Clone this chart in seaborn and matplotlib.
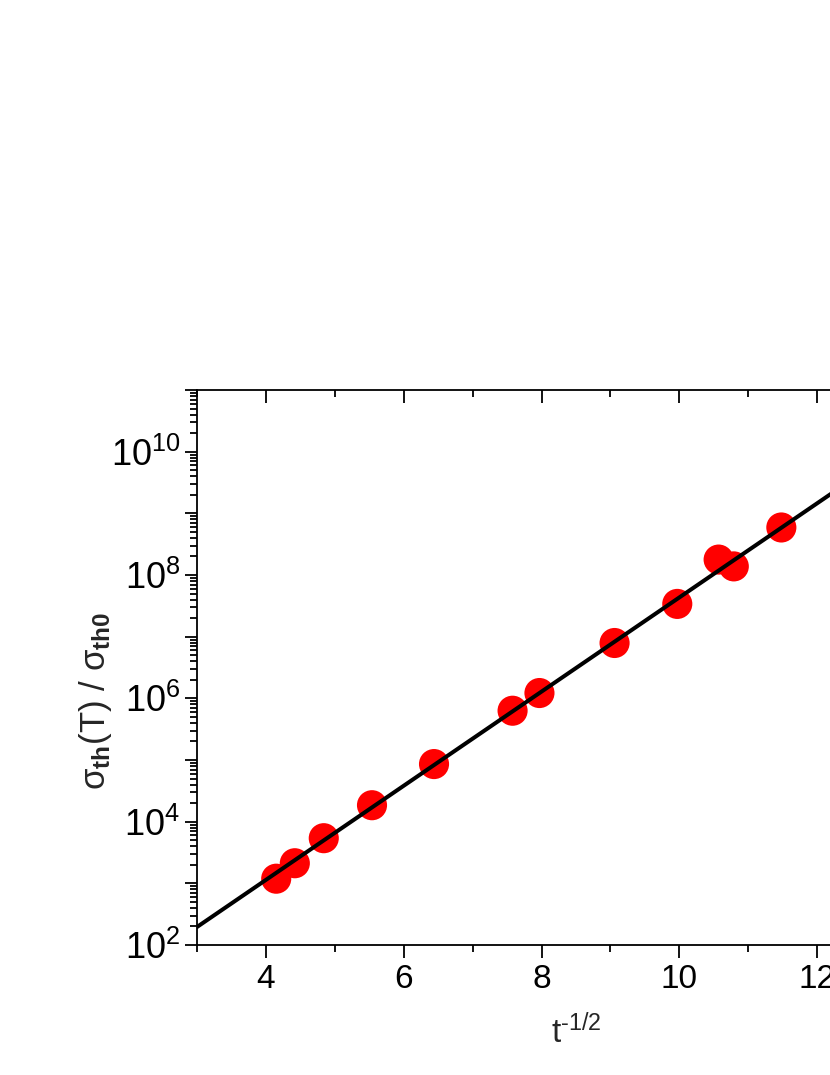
import numpy as np
import pandas as pd
import matplotlib
matplotlib.use("Agg")
import matplotlib.pyplot as plt
from matplotlib.ticker import MultipleLocator, LogLocator, NullFormatter
import seaborn as sns

# data
t_inv_sqrt = [4.15, 4.42, 4.84, 5.54, 6.44, 7.58, 7.97, 9.06, 9.97, 10.57, 10.79, 11.48]
sigma_ratio = [1.19e3, 2.12e3, 5.4e3, 1.85e4, 8.6e4, 6.3e5, 1.22e6, 7.9e6, 3.4e7, 1.78e8, 1.38e8, 5.9e8]

# fitted straight line (log scale), end points
fit_x = [3.0, 14.0]
fit_y = [1.96e2, 4.9e10]

y_decades = [1e2, 1e3, 1e4, 1e5, 1e6, 1e7, 1e8, 1e9, 1e10, 1e11]
y_ticklabels = [r'$10^{2}$', '', r'$10^{4}$', '', r'$10^{6}$', '', r'$10^{8}$', '', r'$10^{10}$', '']

pts = pd.DataFrame({'x': t_inv_sqrt, 'y': sigma_ratio})
fit = pd.DataFrame({'x': fit_x, 'y': fit_y})

sns.set_style("ticks")
plt.rcParams['font.family'] = ['Liberation Sans', 'DejaVu Sans']
plt.rcParams['mathtext.fontset'] = 'custom'
plt.rcParams['mathtext.rm'] = 'Liberation Sans'
plt.rcParams['mathtext.it'] = 'Liberation Sans:italic'
plt.rcParams['mathtext.bf'] = 'Liberation Sans:bold'

fig = plt.figure(figsize=(8.3, 10.75), dpi=100)
ax = fig.add_axes([0.2373, 0.1209, 0.9133, 0.5163])

sns.scatterplot(data=pts, x='x', y='y', ax=ax, s=470, color='#ff0000',
                edgecolor='none', linewidth=0, zorder=2)
sns.lineplot(data=fit, x='x', y='y', ax=ax, color='black', linewidth=2.9, zorder=3)

ax.set_yscale('log')
ax.set_xlim(3, 14)
ax.set_ylim(1e2, 1e11)

ax.xaxis.set_major_locator(MultipleLocator(2))
ax.xaxis.set_minor_locator(MultipleLocator(1))
ax.set_yticks(y_decades)
ax.set_yticklabels(y_ticklabels)
ax.yaxis.set_minor_locator(LogLocator(base=10, subs=np.arange(2, 10), numticks=20))
ax.yaxis.set_minor_formatter(NullFormatter())

for s in ax.spines.values():
    s.set_linewidth(1.3)
    s.set_color('black')

ax.tick_params(axis='x', which='both', bottom=True, top=True, direction='out',
               width=1.3, labelsize=24, pad=5, colors='black')
ax.tick_params(axis='x', which='major', length=9)
ax.tick_params(axis='x', which='minor', length=5)
ax.tick_params(axis='y', which='both', left=True, right=True, direction='out',
               width=1.3, labelsize=26, pad=3, colors='black')
ax.tick_params(axis='y', which='major', length=9)
ax.tick_params(axis='y', which='minor', length=5)
# top ticks point into the plot
for tk in ax.xaxis.get_major_ticks() + ax.xaxis.get_minor_ticks():
    tk.tick2line.set_marker(3)

ax.set_xlabel('$\\mathrm{t}^{\u20101/2}$', fontsize=24)
ax.set_ylabel(r'$\mathrm{σ}_{\mathbf{th}}\mathrm{(T)\ /\ σ}_{\mathbf{th0}}$', fontsize=25)
ax.yaxis.set_label_coords(-0.11, 0.44)
ax.xaxis.set_label_coords(0.5, -0.125)

fig.savefig('out.png', dpi=100)
